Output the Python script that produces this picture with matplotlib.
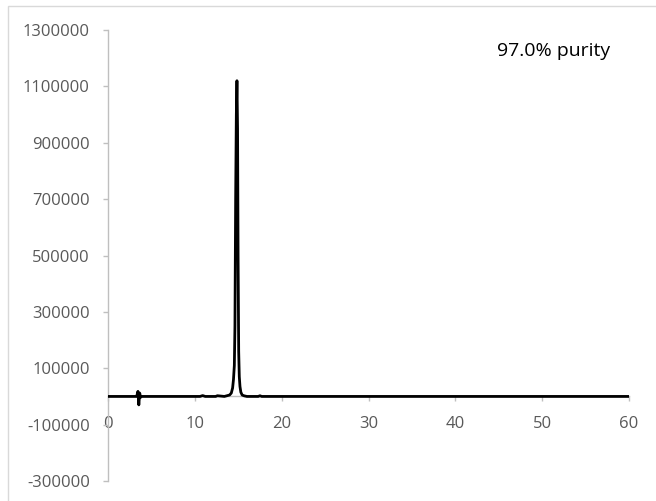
import matplotlib
matplotlib.use("Agg")
import matplotlib.pyplot as plt
from matplotlib.patches import Rectangle

# Chromatogram trace (time in min, signal)
time = [0, 3.3, 3.45, 3.55, 3.65, 3.75, 3.9, 10.6, 10.9, 11.2, 12.4, 12.6, 13.4, 13.7,
        14.0, 14.2, 14.35, 14.45, 14.55, 14.62, 14.7, 14.78, 14.85, 14.92, 14.98,
        15.05, 15.12, 15.2, 15.3, 15.45, 15.7, 16.0, 17.3, 17.5, 17.7, 60]
signal = [0, 0, 18000, -30000, 12000, -3000, 0, 0, 3000, 0, 0, 2500, 0, 2500,
          5000, 12000, 30000, 60000, 110000, 250000, 700000, 1000000, 1120000, 950000, 500000,
          160000, 70000, 35000, 15000, 5000, 2000, 0, 0, 2500, 0, 0]

x_ticks = [0, 10, 20, 30, 40, 50, 60]
y_ticks = [-300000, -100000, 100000, 300000, 500000, 700000, 900000, 1100000, 1300000]
label = "97.0% purity"

plt.rcParams['font.family'] = ['Open Sans', 'DejaVu Sans']
fig = plt.figure(figsize=(6.56, 5.01), dpi=100)
ax = fig.add_axes([108/656, 1-481/501, (629-108)/656, (481-30)/501])

ax.plot(time, signal, color='black', lw=2.0, solid_joinstyle='round', zorder=3)

ax.set_xlim(0, 60)
ax.set_ylim(-300000, 1300000)
ax.set_xticks(x_ticks)
ax.set_yticks(y_ticks)
ax.set_yticklabels([str(v) for v in y_ticks])

gray = '#BFBFBF'
for s in ['top', 'right']:
    ax.spines[s].set_visible(False)
ax.spines['left'].set_color(gray)
ax.spines['left'].set_linewidth(1.0)
ax.spines['bottom'].set_position(('data', 0))
ax.spines['bottom'].set_color(gray)
ax.spines['bottom'].set_linewidth(1.0)

ax.tick_params(axis='x', direction='out', length=3.6, width=1, color=gray,
               labelcolor='#595959', labelsize=12, pad=10.5)
ax.tick_params(axis='y', direction='out', length=3.6, width=1, color=gray,
               labelcolor='#595959', labelsize=12, pad=9.5)

ax.text(497/656, 1-51/501, label, transform=fig.transFigure, fontsize=14,
        color='black', ha='left', va='center')

# outer chart border
fig.patches.append(Rectangle((8/656, -0.05), 1.1, 1-6/501+0.05, transform=fig.transFigure,
                             fill=False, edgecolor='#D9D9D9', lw=1.0))

fig.savefig('out.png', dpi=100)
